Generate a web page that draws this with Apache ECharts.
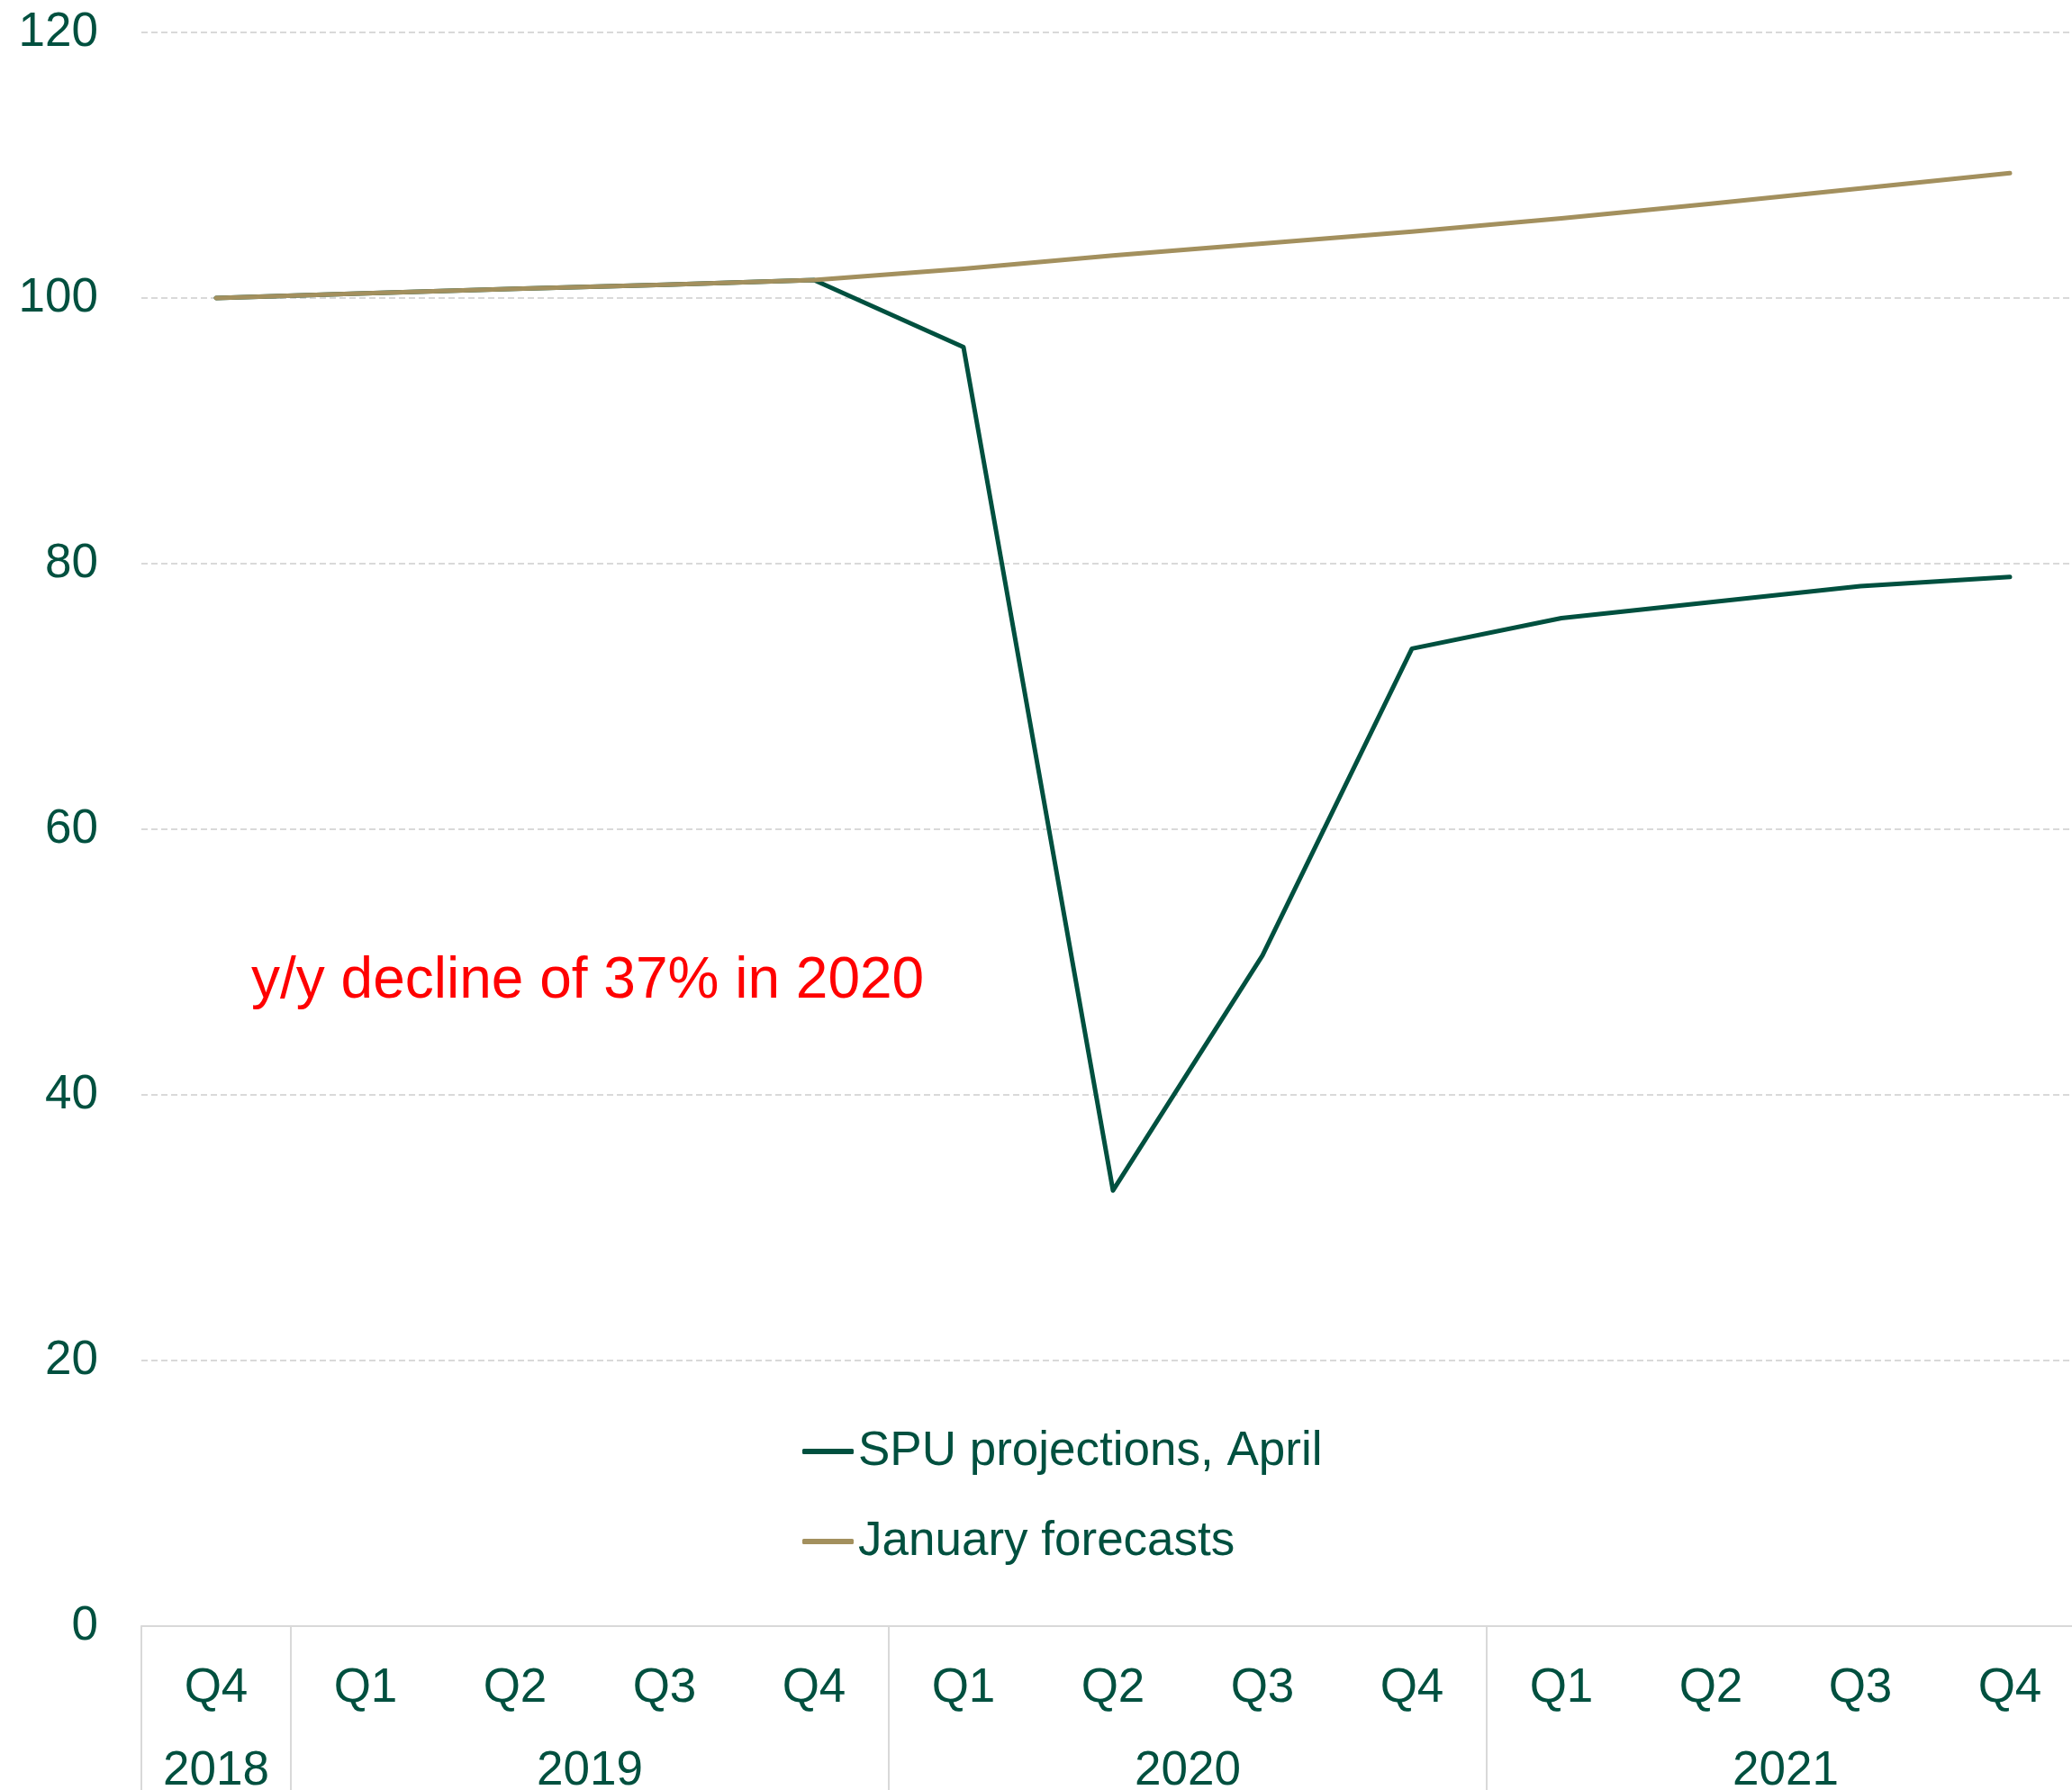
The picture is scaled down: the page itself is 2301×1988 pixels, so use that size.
<!DOCTYPE html>
<html>
<head>
<meta charset="utf-8">
<script src="https://cdn.jsdelivr.net/npm/echarts@6/dist/echarts.min.js"></script>
<style>
  html, body { margin: 0; padding: 0; background: #ffffff; }
  #chart { width: 2301px; height: 1988px; }
</style>
</head>
<body>
<div id="chart"></div>
<script>
// Quarterly periods, Q4 2018 to Q4 2021
const quarterLabels = ['Q4', 'Q1', 'Q2', 'Q3', 'Q4', 'Q1', 'Q2', 'Q3', 'Q4', 'Q1', 'Q2', 'Q3', 'Q4'];
const periodYears = ['2018', '2019', '2019', '2019', '2019', '2020', '2020', '2020', '2020', '2021', '2021', '2021', '2021'];

// Index, Q4 2018 = 100
const spuApril = [100, 100.35, 100.7, 101.0, 101.35, 96.3, 32.8, 50.5, 73.6, 75.9, 77.1, 78.3, 79.0];
const januaryForecasts = [100, 100.35, 100.7, 101.0, 101.35, 102.2, 103.2, 104.1, 105.0, 106.0, 107.1, 108.25, 109.4];

const yTicks = [0, 20, 40, 60, 80, 100, 120];
const note = 'y/y decline of 37% in 2020';

const GREEN = '#00503F';
const TAN = '#A3905E';
const GRID_GRAY = '#D9D9D9';
const FONT = '"Liberation Sans", Arial, sans-serif';

// Year groups: label centred under its quarters, dividers at group edges
const yearGroups = [];
periodYears.forEach((y, i) => {
  const last = yearGroups[yearGroups.length - 1];
  if (last && last.year === y) last.end = i;
  else yearGroups.push({ year: y, start: i, end: i });
});
const yearCenters = yearGroups.map(g => (g.start + g.end) / 2);
const yearDividers = [yearGroups[0].start - 0.5].concat(yearGroups.map(g => g.end + 0.5));

const chart = echarts.init(document.getElementById('chart'), null, { renderer: 'canvas' });

chart.setOption({
  backgroundColor: '#ffffff',
  animation: false,
  textStyle: { fontFamily: FONT },
  grid: {
    left: 157, top: 36, width: 2158, height: 1770,
    containLabel: false, outerBoundsMode: 'none'
  },
  legend: {
    orient: 'vertical',
    left: 886, top: 1577,
    itemWidth: 57, itemHeight: 6, itemGap: 40,
    icon: 'roundRect',
    textStyle: { color: GREEN, fontSize: 53, fontFamily: FONT, lineHeight: 60 },
    data: [
      { name: 'SPU projections, April', itemStyle: { color: GREEN } },
      { name: 'January forecasts', itemStyle: { color: TAN } }
    ]
  },
  xAxis: [
    {
      type: 'category',
      data: quarterLabels,
      boundaryGap: true,
      position: 'bottom',
      axisLine: { show: true, lineStyle: { color: GRID_GRAY, width: 2 } },
      axisTick: { show: false },
      axisLabel: {
        color: GREEN, fontSize: 53, fontFamily: FONT, lineHeight: 60,
        margin: 39, interval: 0
      },
      splitLine: { show: false }
    },
    {
      type: 'value',
      position: 'bottom',
      min: -0.5,
      max: quarterLabels.length - 0.5,
      axisLine: { show: false },
      axisTick: {
        show: true, inside: false, length: 190,
        customValues: yearDividers,
        lineStyle: { color: GRID_GRAY, width: 2 }
      },
      axisLabel: {
        show: true,
        customValues: yearCenters,
        color: GREEN, fontSize: 53, fontFamily: FONT, lineHeight: 60,
        margin: 131,
        formatter: function (v) {
          const k = yearCenters.findIndex(c => Math.abs(c - v) < 1e-6);
          return k >= 0 ? yearGroups[k].year : '';
        }
      },
      splitLine: { show: false }
    }
  ],
  yAxis: {
    type: 'value',
    min: yTicks[0],
    max: yTicks[yTicks.length - 1],
    interval: yTicks[1] - yTicks[0],
    axisLine: { show: false },
    axisTick: { show: false },
    axisLabel: { color: GREEN, fontSize: 53, fontFamily: FONT, margin: 48, padding: [5, 0, 0, 0] },
    splitLine: { show: true, lineStyle: { color: GRID_GRAY, width: 2, type: [7, 4] } }
  },
  series: [
    {
      name: 'SPU projections, April',
      type: 'line',
      xAxisIndex: 0,
      data: spuApril,
      symbol: 'none',
      lineStyle: { color: GREEN, width: 5, cap: 'round', join: 'round' },
      itemStyle: { color: GREEN },
      z: 2
    },
    {
      name: 'January forecasts',
      type: 'line',
      xAxisIndex: 0,
      data: januaryForecasts,
      symbol: 'none',
      lineStyle: { color: TAN, width: 5, cap: 'round', join: 'round' },
      itemStyle: { color: TAN },
      z: 3
    }
  ],
  graphic: [
    {
      type: 'text',
      left: 279,
      top: 1058,
      style: {
        text: note,
        fill: '#FF0000',
        font: '64px "Liberation Sans", Arial, sans-serif'
      }
    }
  ]
});
</script>
</body>
</html>
